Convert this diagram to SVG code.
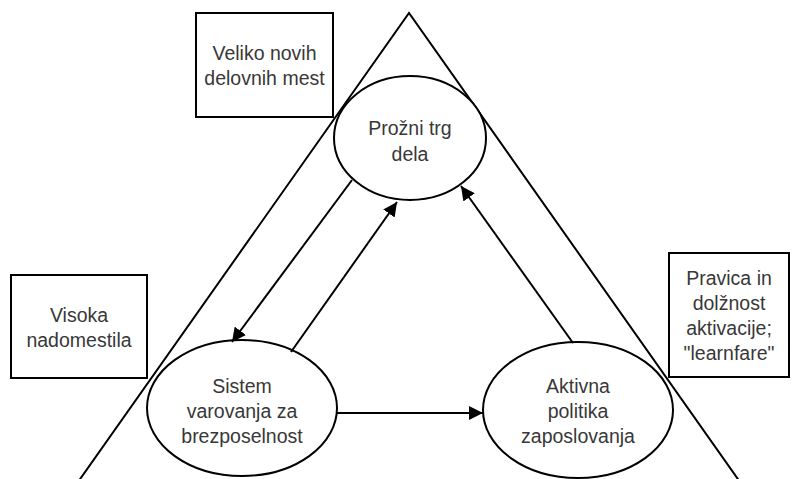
<svg xmlns="http://www.w3.org/2000/svg" width="793" height="479" viewBox="0 0 793 479">
<style>
.box{fill:#fff;stroke:#000;stroke-width:2}
.ell{fill:#fff;stroke:#000;stroke-width:2}
.ln{fill:none;stroke:#000;stroke-width:2}
text{font-family:"Liberation Sans",Arial,sans-serif;font-size:19.5px;fill:#383838;text-anchor:middle}
</style>
<defs>
<marker id="ah" viewBox="0 0 10 10" refX="10" refY="5" markerWidth="7" markerHeight="7" markerUnits="strokeWidth" orient="auto">
<path d="M0,0 L10,5 L0,10 z" fill="#000"/>
</marker>
</defs>
<rect width="793" height="479" fill="#fff"/>
<g id="triangle">
<polyline class="ln" points="78,482 409,13 740,482"/>
</g>
<g id="box-veliko">
<rect class="box" x="196" y="13" width="137" height="104"/>
<text x="264.5" y="60">Veliko novih</text>
<text x="264.5" y="85">delovnih mest</text>
</g>
<g id="box-visoka">
<rect class="box" x="11" y="275" width="136" height="103"/>
<text x="79" y="322">Visoka</text>
<text x="79" y="347">nadomestila</text>
</g>
<g id="box-pravica">
<rect class="box" x="669" y="253" width="120" height="124"/>
<text x="729" y="285">Pravica in</text>
<text x="729" y="310">dolžnost</text>
<text x="729" y="335">aktivacije;</text>
<text x="729" y="360">"learnfare"</text>
</g>
<g id="node-trg">
<ellipse class="ell" cx="410" cy="138" rx="76" ry="62"/>
<text x="410" y="135">Prožni trg</text>
<text x="410" y="161">dela</text>
</g>
<g id="node-sistem">
<ellipse class="ell" cx="242" cy="408" rx="95" ry="68"/>
<text x="242" y="393">Sistem</text>
<text x="242" y="418">varovanja za</text>
<text x="242" y="443">brezposelnost</text>
</g>
<g id="node-aktivna">
<ellipse class="ell" cx="578" cy="410" rx="95" ry="68"/>
<text x="578" y="393">Aktivna</text>
<text x="578" y="418">politika</text>
<text x="578" y="443">zaposlovanja</text>
</g>
<g id="connectors">
<line class="ln" x1="352" y1="180" x2="232" y2="342" marker-end="url(#ah)"/>
<line class="ln" x1="291" y1="352" x2="397" y2="202" marker-end="url(#ah)"/>
<line class="ln" x1="573" y1="343" x2="461" y2="186" marker-end="url(#ah)"/>
<line class="ln" x1="337" y1="413" x2="483" y2="413" marker-end="url(#ah)"/>
</g>
</svg>
